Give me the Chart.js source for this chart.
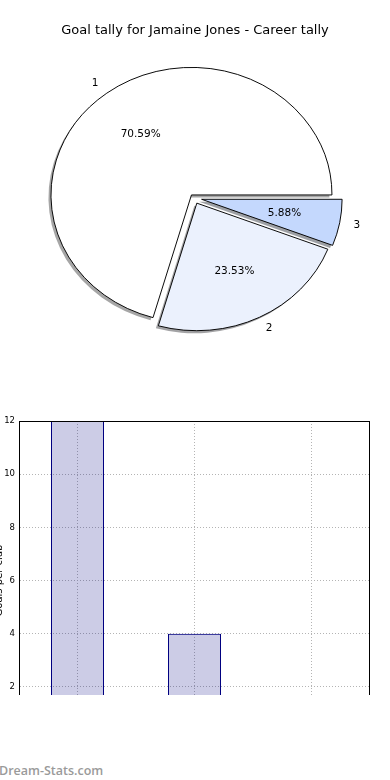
<!DOCTYPE html>
<html>
<head>
<meta charset="utf-8">
<script src="https://cdn.jsdelivr.net/npm/chart.js@4.4.1/dist/chart.umd.min.js"></script>
<style>
  html, body { margin: 0; padding: 0; background: #fff; }
  body { width: 390px; height: 780px; position: relative; overflow: hidden; font-family: "DejaVu Sans", sans-serif; }
  #title { position: absolute; left: 0; top: 22px; width: 390px; text-align: center; font-size: 13px; line-height: 16px; color: #000; }
  #pieBox { position: absolute; left: 0; top: 0; width: 390px; height: 390px; }
  #barClip { position: absolute; left: 0; top: 390px; width: 390px; height: 305px; overflow: hidden; }
  #barBox { position: absolute; left: -12px; top: 0; width: 402px; height: 390px; }
  #mark { position: absolute; left: -1px; top: 762px; font-family: "Open Sans", sans-serif; font-weight: 600; font-size: 12.5px; color: #9a9a9a; }
</style>
</head>
<body>
<div id="pieBox"><canvas id="pieChart"></canvas></div>
<div id="title">Goal tally for Jamaine Jones - Career tally</div>
<div id="barClip"><div id="barBox"><canvas id="barChart"></canvas></div></div>
<div id="mark">Dream-Stats.com</div>
<script>
// data
const categories = ['1', '2', '3'];
const goals = [12, 4, 1];
const yTicks = [0, 2, 4, 6, 8, 10, 12];

// styles
const sliceColors = ['#ffffff', '#ebf1fd', '#c4d8fd'];
const explode = [0.03, 0.045, 0.055];
const squash = 128 / 141; // pie is drawn as an ellipse

// matplotlib draws counter-clockwise from 3 o'clock, Chart.js clockwise -> reverse
const pieLabels = categories.slice().reverse();
const pieValues = goals.slice().reverse();
const pieColors = sliceColors.slice().reverse();
const pieExplode = explode.slice().reverse();
const total = goals.reduce((a, b) => a + b, 0);

function shadeOf(hex) {
    const n = parseInt(hex.slice(1), 16);
    const r = Math.round(((n >> 16) & 255) * 0.3);
    const g = Math.round(((n >> 8) & 255) * 0.3);
    const b = Math.round((n & 255) * 0.3);
    return `rgba(${r},${g},${b},0.5)`;
}

const pieExtras = {
    id: 'pieExtras',
    afterUpdate(chart) {
        chart.getDatasetMeta(0).data.forEach((a, i) => {
            const mid = (a.startAngle + a.endAngle) / 2;
            const d = pieExplode[i] * a.outerRadius;
            a.x += Math.cos(mid) * d;
            a.y += Math.sin(mid) * d;
        });
    },
    beforeDatasetsDraw(chart) {
        const ctx = chart.ctx, ca = chart.chartArea;
        const cx = (ca.left + ca.right) / 2, cy = (ca.top + ca.bottom) / 2;
        ctx.save();
        ctx.translate(cx, cy);
        ctx.scale(1, squash);
        ctx.translate(-cx, -cy);
        // shadows under all wedges
        chart.getDatasetMeta(0).data.forEach((a, i) => {
            ctx.save();
            ctx.translate(-2.5, 2.8);
            ctx.beginPath();
            ctx.moveTo(a.x, a.y);
            ctx.arc(a.x, a.y, a.outerRadius, a.startAngle, a.endAngle);
            ctx.closePath();
            ctx.fillStyle = shadeOf(pieColors[i]);
            ctx.fill();
            ctx.restore();
        });
    },
    afterDatasetsDraw(chart) {
        const ctx = chart.ctx, ca = chart.chartArea;
        ctx.restore();
        const cy = (ca.top + ca.bottom) / 2;
        ctx.save();
        ctx.font = '10.5px "DejaVu Sans"';
        ctx.fillStyle = '#000';
        ctx.textBaseline = 'middle';
        chart.getDatasetMeta(0).data.forEach((a, i) => {
            const mid = (a.startAngle + a.endAngle) / 2;
            const r = a.outerRadius;
            const lx = a.x + Math.cos(mid) * r * 1.1;
            const ly = cy + (a.y + Math.sin(mid) * r * 1.1 - cy) * squash;
            ctx.textAlign = Math.cos(mid) > 0 ? 'left' : 'right';
            ctx.fillText(pieLabels[i], lx, ly);
            const px = a.x + Math.cos(mid) * r * 0.6;
            const py = cy + (a.y + Math.sin(mid) * r * 0.6 - cy) * squash;
            ctx.textAlign = 'center';
            ctx.fillText((pieValues[i] / total * 100).toFixed(2) + '%', px, py);
        });
        ctx.restore();
    }
};

new Chart(document.getElementById('pieChart'), {
    type: 'pie',
    data: {
        labels: pieLabels,
        datasets: [{
            data: pieValues,
            backgroundColor: pieColors,
            borderColor: '#000',
            borderWidth: 1
        }]
    },
    options: {
        responsive: true,
        maintainAspectRatio: false,
        animation: false,
        events: [],
        rotation: 90,
        layout: { padding: { left: 52.5, right: 54.5, top: 57, bottom: 51 } },
        plugins: { legend: { display: false }, tooltip: { enabled: false } }
    },
    plugins: [pieExtras]
});

const frame = {
    id: 'frame',
    afterDraw(chart) {
        const ctx = chart.ctx, ca = chart.chartArea;
        ctx.save();
        ctx.strokeStyle = '#000';
        ctx.lineWidth = 1;
        ctx.strokeRect(Math.round(ca.left) + 0.5, Math.round(ca.top) + 0.5,
            Math.round(ca.right - ca.left) - 1, Math.round(ca.bottom - ca.top));
        ctx.restore();
    }
};

new Chart(document.getElementById('barChart'), {
    type: 'bar',
    data: {
        labels: categories,
        datasets: [{
            data: goals,
            backgroundColor: 'rgba(0,0,128,0.2)',
            borderColor: '#000080',
            borderWidth: 1,
            borderSkipped: false,
            barPercentage: 0.453,
            categoryPercentage: 1
        }]
    },
    options: {
        responsive: true,
        maintainAspectRatio: false,
        animation: false,
        events: [],
        layout: { padding: { left: 0, right: 20, top: 31, bottom: 40 } },
        plugins: { legend: { display: false }, tooltip: { enabled: false } },
        scales: {
            x: {
                grid: { offset: false, color: '#b4b4b4', drawTicks: false },
                border: { display: false, dash: [1, 2] },
                ticks: { display: false },
                afterFit: s => { s.height = 0; }
            },
            y: {
                min: yTicks[0],
                max: yTicks[yTicks.length - 1],
                afterBuildTicks: s => { s.ticks = yTicks.map(v => ({ value: v })); },
                ticks: { padding: 4, color: '#000', font: { family: 'DejaVu Sans', size: 8.5 } },
                grid: { color: '#b4b4b4', drawTicks: false },
                border: { color: '#000', dash: [1, 2] },
                title: { display: true, text: 'Goals per club', color: '#000', padding: { top: 5, bottom: 0 }, font: { family: 'DejaVu Sans', size: 10 } },
                afterFit: s => { s.width = 31; }
            }
        }
    },
    plugins: [frame]
});
</script>
</body>
</html>
